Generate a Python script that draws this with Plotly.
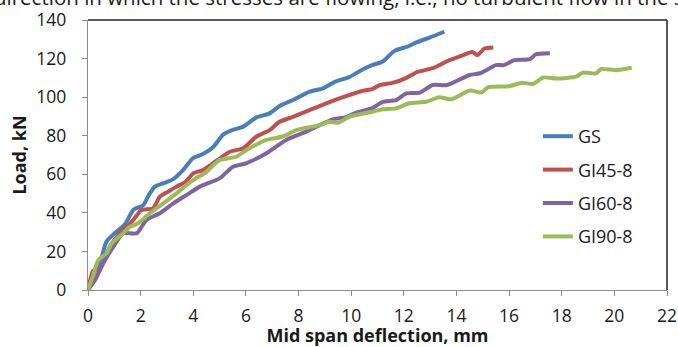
import plotly.graph_objects as go

series_names = ["GS", "GI45-8", "GI60-8", "GI90-8"]
colors = ["#4A7EBB", "#C0504D", "#8064A2", "#9BBB59"]

gs_x = [0, 0.2, 0.45, 0.7, 0.9, 1.15, 1.4, 1.72, 2.1, 2.3, 2.54, 2.9, 3.24, 3.6, 4.0, 4.37, 4.75, 5.13, 5.5, 5.9, 6.4, 6.9, 7.28, 7.79, 8.42, 8.93, 9.4, 9.94, 10.45, 10.8, 11.2, 11.65, 12.1, 12.5, 13.0, 13.54]
gs_y = [0, 8, 14, 25, 28, 31, 34, 41.5, 44, 49, 53.6, 55.5, 57.5, 62, 68.5, 70.5, 74, 80.5, 83, 84.7, 89.5, 91.6, 95.4, 98.5, 102.8, 104.6, 108, 110.5, 114.5, 116.6, 118.5, 124, 126, 128.5, 131, 133.9]

gi45_x = [0, 0.2, 0.46, 0.83, 1.2, 1.7, 2.03, 2.47, 2.73, 3.05, 3.36, 3.7, 4.0, 4.37, 4.75, 5.39, 5.9, 6.4, 6.9, 7.28, 7.79, 8.42, 9.05, 9.8, 10.45, 10.8, 11.1, 11.6, 12.1, 12.5, 13.1, 13.7, 14.2, 14.6, 14.8, 15.06, 15.4]
gi45_y = [0, 10, 11, 22.4, 29.4, 36, 41.5, 42.3, 48.4, 51, 53.6, 56, 60.5, 62.2, 65.7, 71.7, 73.5, 79.6, 82.9, 87.2, 89.8, 93.3, 96.8, 100.5, 103.3, 104.2, 106.3, 107.5, 110, 113, 115, 119, 121.5, 123.4, 121.8, 125.2, 125.8]

gi60_x = [0, 0.27, 0.58, 0.96, 1.34, 1.85, 2.22, 2.73, 3.24, 3.74, 4.25, 5.0, 5.51, 6.0, 6.78, 7.53, 8.29, 8.8, 9.3, 9.8, 10.2, 10.83, 11.2, 11.7, 12.1, 12.6, 13.1, 13.65, 14.5, 14.9, 15.5, 15.8, 16.2, 16.8, 17.0, 17.55]
gi60_y = [0, 5.2, 13.8, 22.4, 29.4, 29.4, 36.3, 39.8, 44.9, 49.2, 53.6, 57.9, 63.9, 65.7, 70.9, 77.8, 82.1, 85.5, 88.5, 89.6, 92, 94.5, 97.6, 98.5, 102, 102.3, 106.3, 106.3, 111.5, 112.4, 116.6, 116.6, 119.2, 119.7, 122.1, 122.7]

gi90_x = [0, 0.2, 0.39, 0.71, 0.9, 1.34, 1.59, 1.91, 2.35, 2.86, 3.36, 3.74, 4.0, 4.5, 5.0, 5.64, 6.02, 6.78, 7.4, 7.91, 8.8, 9.18, 9.5, 9.94, 10.8, 11.2, 11.7, 12.2, 12.85, 13.35, 13.8, 14.5, 14.95, 15.2, 16.0, 16.5, 16.9, 17.3, 17.8, 18.55, 18.8, 19.3, 19.5, 20.07, 20.66]
gi90_y = [0, 7.8, 15.5, 19, 24.2, 29.4, 32.8, 34.6, 39.8, 44.9, 50.1, 54.4, 57, 61.3, 67.4, 69.1, 72.6, 77.8, 79.6, 82.9, 85.5, 87.2, 86.7, 89.9, 92.4, 93.7, 94.2, 96.8, 97.6, 99.9, 98.9, 103.4, 102.4, 105.1, 105.7, 107.5, 106.8, 110.2, 109.7, 110.6, 112.7, 112.3, 114.6, 114, 115.2]

x_ticks = list(range(0, 23, 2))
y_ticks = list(range(0, 141, 20))

data = [(gs_x, gs_y), (gi45_x, gi45_y), (gi60_x, gi60_y), (gi90_x, gi90_y)]

font = "Open Sans"
txt = "#1a1a1a"
fig = go.Figure()
for i, (name, (xs, ys)) in enumerate(zip(series_names, data)):
    fig.add_trace(go.Scatter(
        x=xs, y=ys, mode="lines", name=name, legendgroup=name,
        line=dict(color=colors[i], width=4, shape="spline", smoothing=0.6),
    ))

axis_common = dict(
    showgrid=False, zeroline=False, showline=True, linecolor="#8C8C8C", linewidth=1.3,
    ticks="outside", ticklen=5, tickcolor="#8C8C8C", tickwidth=1.3,
    tickfont=dict(family=font, size=17.5, color=txt), automargin=False,
)

fig.update_layout(
    width=678, height=347,
    margin=dict(l=88, r=11, t=20, b=57),
    paper_bgcolor="white", plot_bgcolor="white",
    showlegend=True,
    legend=dict(x=0.777, y=0.637, xanchor="left", yanchor="top",
                font=dict(family=font, size=18, color=txt),
                tracegroupgap=7, bgcolor="rgba(0,0,0,0)"),
    xaxis=dict(range=[0, 22], tickvals=x_ticks, ticklabelstandoff=5,
               title=dict(text="<b>Mid span deflection, mm</b>", standoff=12,
                          font=dict(family=font, size=18, color=txt)),
               **axis_common),
    yaxis=dict(range=[0, 140], tickvals=y_ticks, ticklabelstandoff=12,
               title=dict(text="<b>Load, kN</b>", standoff=5,
                          font=dict(family=font, size=18, color=txt)),
               **axis_common),
)

fig.add_shape(type="line", xref="paper", yref="paper", x0=0, x1=1, y0=1, y1=1,
              line=dict(color="#222222", width=1.5))
fig.add_shape(type="line", xref="paper", yref="paper", x0=1, x1=1, y0=0, y1=1,
              line=dict(color="#222222", width=1.5))

fig.add_annotation(
    text="direction in which the stresses are flowing, i.e., no turbulent flow in the st",
    xref="paper", yref="paper", x=-0.1658, y=1.026, xanchor="left", yanchor="bottom",
    showarrow=False, font=dict(family=font, size=20.5, color=txt),
)

fig.write_html("out.html", config={"displayModeBar": False},
               post_script="document.body.style.margin='0';document.body.style.padding='0';")
